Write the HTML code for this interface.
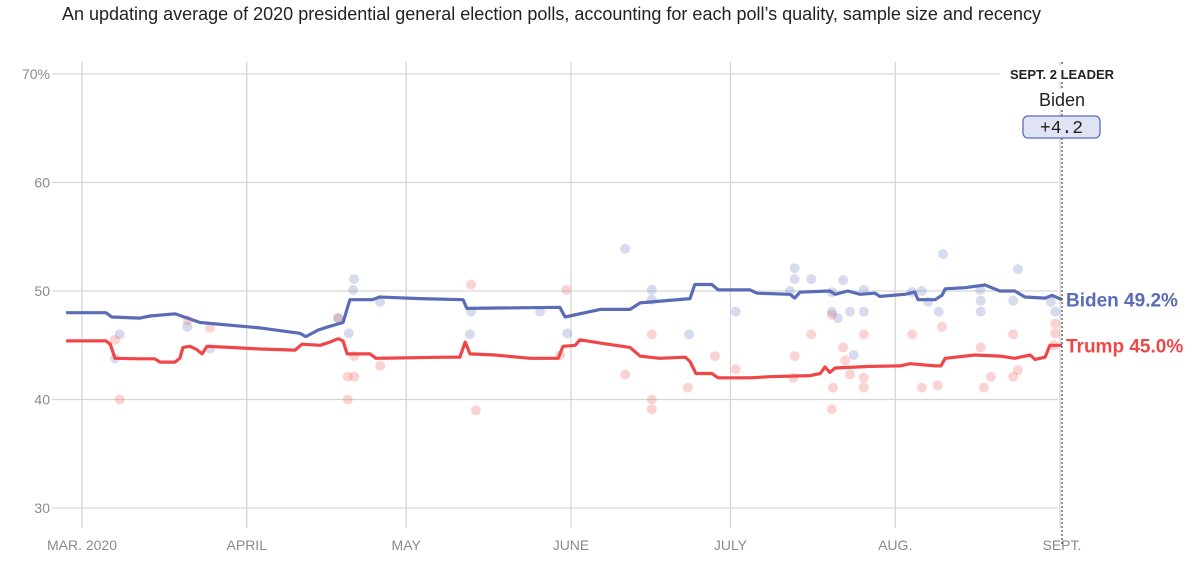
<!DOCTYPE html>
<html><head><meta charset="utf-8">
<style>
html,body{margin:0;padding:0;background:#fff;width:1200px;height:563px;overflow:hidden;font-family:"Liberation Sans",sans-serif}
</style></head>
<body>
<svg id="chart" width="1200" height="563" xmlns="http://www.w3.org/2000/svg">
<text x="62" y="20" font-size="18" fill="#222" font-family="Liberation Sans, sans-serif">An updating average of 2020 presidential general election polls, accounting for each poll’s quality, sample size and recency</text>
<g id="grid"></g>
<g id="dots"></g>
<g id="lines"></g>
<g id="annot"></g>
</svg>
<script>
const yTicks=[70,60,50,40,30];
const monthLabels=["MAR. 2020","APRIL","MAY","JUNE","JULY","AUG.","SEPT."];
const monthDays=[0,31,61,92,122,153,184];
const bidenDays=[-3,4.5,5.6,10.9,12.8,17.5,22.2,33.5,41,42.1,44.4,46.3,49.1,50.4,54.6,56,63.6,71.7,72.4,89.9,90.9,97.5,103.1,105,114.4,115.3,118.5,119.7,125.7,127,133.2,134.1,135.1,140.7,141.7,144.1,146.4,149.2,150.1,154.8,156.7,157.3,160.5,161.8,162.4,166.1,169.9,172.7,175.5,177.4,181.2,182.5,184.4];
const bidenVals=[48.0,48.0,47.6,47.5,47.7,47.9,47.1,46.6,46.1,45.8,46.4,46.7,47.1,49.2,49.2,49.45,49.3,49.2,48.4,48.5,47.6,48.3,48.3,48.9,49.3,50.6,50.6,50.1,50.1,49.8,49.7,49.35,49.9,50.0,49.7,50.0,49.7,49.8,49.5,49.7,49.9,49.2,49.2,49.6,50.2,50.3,50.55,50.0,50.0,49.45,49.35,49.6,49.2];
const trumpDays=[-3,4.5,5.3,6.2,10.9,13.7,14.7,17.5,18.4,19,20.3,21.6,22.6,23.5,27.8,33.5,40.1,41.4,44.8,46.7,48.2,49.1,49.9,54.2,55.3,68.3,71.1,72.1,73,77.7,84.3,89.6,90.5,92.8,93.7,97.5,103.1,105,108.7,113.5,114.4,115.5,118.5,119.7,125.7,129.4,137,138.9,139.8,140.7,141.7,148.3,153.9,155.8,160.5,161.6,162.4,168,172.7,175.5,178.4,179.3,181.2,182.1,184.4];
const trumpVals=[45.4,45.4,45.1,43.8,43.75,43.75,43.45,43.45,43.8,44.8,44.9,44.6,44.2,44.9,44.8,44.65,44.55,45.1,45.0,45.3,45.6,45.4,44.2,44.2,43.8,43.9,43.9,45.3,44.2,44.1,43.8,43.8,44.9,45.0,45.5,45.2,44.8,44.0,43.8,43.9,43.5,42.4,42.4,42.0,42.0,42.1,42.2,42.4,43.0,42.5,42.9,43.05,43.1,43.3,43.1,43.1,43.8,44.1,44.0,43.8,44.1,43.7,43.9,45.0,45.0];
const bidenPollDays=[7.1,6.2,19.8,24.1,48.2,50.2,51,51.2,56.1,73.2,73,86.2,91.3,102.2,107.2,107.2,114.2,123,133.2,134.1,134.1,137.2,141.1,141.1,142.2,143.2,144.5,145.2,147.1,147.1,156.2,158,159.2,161.2,162,169,169.1,169.1,175.2,176.1,182.3,183.1];
const bidenPollVals=[46.0,43.8,46.7,44.7,47.5,46.1,50.1,51.1,49.0,48.1,46.0,48.1,46.1,53.9,49.2,50.1,46.0,48.1,50.0,51.1,52.1,51.1,49.9,48.1,47.5,51.0,48.1,44.1,48.1,50.1,49.9,50.0,49.0,48.1,53.4,50.1,49.1,48.1,49.1,52.0,49.0,48.1];
const trumpPollDays=[6.2,7.1,19.9,24.1,48.2,50,51.2,50,51.2,56.1,73.2,74.1,91.1,90,102.2,107.2,107.2,107.2,114,119.1,123,134.1,137.2,133.8,141.1,141.3,143.2,143.6,144.5,147.1,147.1,141.1,147.1,156.2,158,161,161.8,169.1,169.7,171,175.2,176.1,175.2,183.1,183.1,182.9];
const trumpPollVals=[45.5,40.0,47.3,46.6,47.5,42.1,42.1,40.0,44.0,43.1,50.6,39.0,50.1,44.1,42.3,46.0,40.0,39.1,41.1,44.0,42.8,44.0,46.0,42.0,47.8,41.1,44.8,43.6,42.3,41.1,46.0,39.1,42.0,46.0,41.1,41.3,46.7,44.8,41.1,42.1,46.0,42.7,42.1,47.0,46.1,45.0];

const NS="http://www.w3.org/2000/svg";
const xS=d=>82+d*5.315;
const yS=v=>291-(v-50)*10.85;
function mk(tag,attrs,parent,text){const e=document.createElementNS(NS,tag);for(const k in attrs)e.setAttribute(k,attrs[k]);if(text!=null)e.textContent=text;document.getElementById(parent).appendChild(e);return e;}
const F="Liberation Sans, sans-serif";
yTicks.forEach((t,i)=>{
  const g=mk('line',{x1:52,x2:t===70?1000:1058,y1:yS(t),y2:yS(t),stroke:'#d6d6d6','stroke-width':1.3},'grid');
  
  
  const l=mk('text',{x:50,y:yS(t)+5,'text-anchor':'end','font-size':14,fill:'#8a8a8a','font-family':F},'grid',t===70?t+'%':String(t));
  
  
});
monthLabels.forEach((m,i)=>{
  const x=xS(monthDays[i]);
  const g=mk('line',{x1:x,x2:x,y1:62,y2:528,stroke:'#d6d6d6','stroke-width':1.3},'grid');
  
  
  const l=mk('text',{x:i===6?x+2:x,y:550,'text-anchor':'middle','font-size':14,fill:'#8a8a8a','font-family':F},'grid',m);
  
  
});
function dots(ds,vs,col,name){ds.forEach((d,i)=>{const c=mk('circle',{cx:xS(d),cy:yS(vs[i]),r:5,fill:col},'dots');

});}
dots(trumpPollDays,trumpPollVals,'rgba(245,110,110,0.3)','trump-poll-dot');
dots(bidenPollDays,bidenPollVals,'rgba(110,125,195,0.28)','biden-poll-dot');
function line(ds,vs,col,name){const p=mk('path',{d:ds.map((d,i)=>(i?'L':'M')+xS(d).toFixed(1)+','+yS(vs[i]).toFixed(1)).join(''),fill:'none',stroke:col,'stroke-width':3.2,'stroke-linejoin':'round'},'lines');

}
line(trumpDays,trumpVals,'#ef4747','trump-average-line');
line(bidenDays,bidenVals,'#5a6cb6','biden-average-line');
const dl=mk('line',{x1:1062,x2:1062,y1:62,y2:545,stroke:'#444','stroke-width':1.2,'stroke-dasharray':'2,2'},'annot');


const bl=mk('text',{x:1066,y:yS(bidenVals[bidenVals.length-1])+7,'font-size':19,'font-weight':'bold',fill:'#5a6cb6','font-family':F},'annot','Biden '+bidenVals[bidenVals.length-1].toFixed(1)+'%');


const tl=mk('text',{x:1066,y:yS(trumpVals[trumpVals.length-1])+7,'font-size':19,'font-weight':'bold',fill:'#ef4747','font-family':F},'annot','Trump '+trumpVals[trumpVals.length-1].toFixed(1)+'%');


const rb=mk('rect',{x:1005,y:66,width:114,height:16,fill:'#fff'},'annot');


const h=mk('text',{x:1062,y:79,'text-anchor':'middle','font-size':13,'font-weight':'bold',fill:'#222','font-family':F},'annot','SEPT. 2 LEADER');


const rb2=mk('rect',{x:1036,y:89,width:52,height:20,fill:'#fff'},'annot');


const n=mk('text',{x:1062,y:106,'text-anchor':'middle','font-size':18,fill:'#222','font-family':F},'annot','Biden');


const bx=mk('rect',{x:1023,y:116,width:77,height:22,rx:5,fill:'#dfe3f4',stroke:'#5a6cb6','stroke-width':1.3},'annot');


const mt=mk('text',{x:1061.5,y:133,'text-anchor':'middle','font-size':18,fill:'#222','font-family':'Liberation Mono, monospace'},'annot','+4.2');


</script>
</body></html>
